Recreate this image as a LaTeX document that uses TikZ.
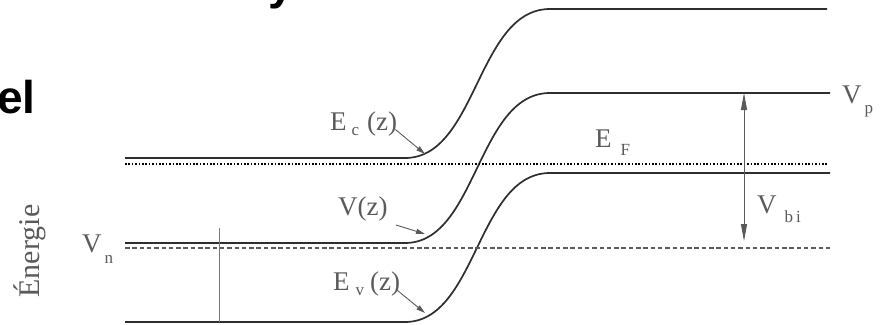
\documentclass[tikz,border=0pt]{standalone}
\usepackage{fontspec}
\setmainfont{Liberation Serif}
\newfontfamily\headfont{Liberation Sans}
\usetikzlibrary{arrows.meta}
\definecolor{band}{HTML}{2E2E2E}
\definecolor{muted}{HTML}{5A5A5A}
\newcommand\lowidx[2][7pt]{\raisebox{-#1}{\fontsize{17}{17}\selectfont #2}}

\begin{document}
\begin{tikzpicture}[x=1pt,y=-1pt,
    band/.style={draw=band,line width=1.7pt},
    lbl/.style={anchor=base west,inner sep=0pt,text=muted,font=\fontsize{27}{27}\selectfont},
    ptr/.style={draw=muted,line width=0.9pt,-{Triangle[length=9pt,width=5pt]}}]
        \useasboundingbox (0,0) rectangle (885,324);
        % partly cut slide title
        \node[anchor=base west,inner sep=0pt,font=\headfont\bfseries\fontsize{46}{46}\selectfont] (title) at (268,-1){y};
        \node[anchor=base west,inner sep=0pt,font=\headfont\bfseries\fontsize{46}{46}\selectfont] (head) at (-3,113){el};
        % bands
        \draw[band] (125,158)--(405,158) .. controls (477,158) and (477,9) .. (550,9)--(827,9);
        \draw[band] (125,243)--(405,243) .. controls (477,243) and (477,93) .. (550,93)--(830,93);
        \draw[band] (125,322)--(405,322) .. controls (477,322) and (477,173) .. (550,173)--(830,173);
        \draw[line width=1.5pt,dash pattern=on 1.5pt off 1.9pt] (125,164)--(828,164);
        \draw[muted,line width=1.2pt,dash pattern=on 4.5pt off 2.8pt] (125,248)--(830,248);
        \draw[muted!80,line width=0.7pt] (219,228)--(219,322);
        % labels
        \node[lbl] (ec) at (330,130){E\kern5pt\lowidx[5pt]{c}\kern8pt(z)};
        \node[lbl] (vz) at (338,215){V(z)};
        \node[lbl] (ev) at (333,290){E\kern6pt\lowidx[5pt]{v}\kern6pt(z)};
        \node[lbl] (vn) at (82,252){V\kern3pt\lowidx[11pt]{n}};
        \node[lbl] (ef) at (595,147){E\kern9pt\lowidx[8pt]{F}};
        \node[lbl] (vp) at (842,103){V\kern3pt\lowidx[10pt]{p}};
        \node[lbl] (vbi) at (757,213){V\kern8pt\lowidx[9pt]{b\kern3pt i}};
        \node[text=muted,rotate=90,inner sep=0pt,font=\fontsize{30}{30}\selectfont] (axis) at (30,251){Énergie};
        % pointers
        \coordinate (ecpt) at (425,154);
        \coordinate (vzpt) at (425,234);
        \coordinate (evpt) at (425,313);
        \draw[ptr] ([xshift=-2pt,yshift=-6pt]ec.east)--(ecpt);
        \draw[ptr] ([xshift=8pt,yshift=-4pt]vz.south east)--(vzpt);
        \draw[ptr] ([xshift=-4pt,yshift=-6pt]ev.east)--(evpt);
        \coordinate (vbitop) at (744,93);
        \coordinate (vbibot) at (744,241);
        \draw[muted,line width=0.8pt,{Triangle[length=17pt,width=6pt]}-{Triangle[length=17pt,width=6pt]}] (vbitop)--(vbibot);
      \end{tikzpicture}
\end{document}
